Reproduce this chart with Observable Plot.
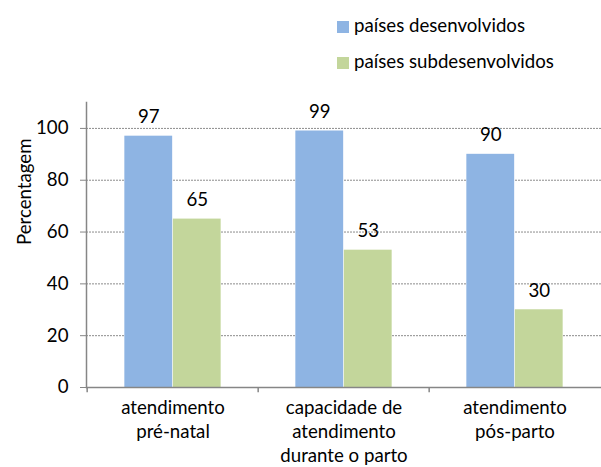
<!DOCTYPE html>
<html>
<head>
<meta charset="utf-8">
<script src="https://cdn.jsdelivr.net/npm/d3@7"></script>
<script src="https://cdn.jsdelivr.net/npm/@observablehq/plot@0.6"></script>
<style>
  body { margin: 0; background: #fff; font-family: Lato, "Noto Sans", sans-serif; }
  #legend { position: relative; width: 601px; height: 80px; }
  .item { position: absolute; left: 337px; height: 19px; font-size: 18.67px; line-height: 19px; color: #000; white-space: nowrap; }
  .sw { position: absolute; left: 0; top: 5px; width: 12px; height: 12px; }
  .lbl { position: absolute; left: 17px; top: 0; }
  svg { display: block; }
</style>
</head>
<body>
<div id="legend"></div>
<div id="chart"></div>
<script>
const categories = ["atendimento pré-natal", "capacidade de atendimento durante o parto", "atendimento pós-parto"];
const tickLabels = ["atendimento\npré-natal", "capacidade de\natendimento\ndurante o parto", "atendimento\npós-parto"];
const seriesNames = ["países desenvolvidos", "países subdesenvolvidos"];
const developed = [97, 99, 90];
const underdeveloped = [65, 53, 30];
const yTicks = [0, 20, 40, 60, 80, 100];
const colors = ["#8EB4E3", "#C3D69B"];

// legend
const legend = document.getElementById("legend");
seriesNames.forEach((name, i) => {
  const item = document.createElement("div");
  item.className = "item";
  item.style.top = (16 + i * 36) + "px";
  item.innerHTML = `<span class="sw" style="background:${colors[i]}"></span><span class="lbl">${name}</span>`;
  legend.appendChild(item);
});

const fs = 18.67;
const width = 601, height = 387;
const marginLeft = 86, marginRight = 0, marginTop = 22, marginBottom = 80;
const bw = (width - marginLeft - marginRight) / categories.length;
const barW = bw / 3.54;
const outer = (bw - 2 * barW) / 2;

const rows = categories.map((c, i) => ({cat: c, tick: tickLabels[i], dev: developed[i], sub: underdeveloped[i]}));
const gray = "#868686";

const chart = Plot.plot({
  width, height, marginLeft, marginRight, marginTop, marginBottom,
  style: {fontFamily: "Lato, 'Noto Sans', sans-serif", background: "#fff"},
  x: {domain: categories, padding: 0, axis: null},
  y: {domain: [0, 110], axis: null},
  marks: [
    Plot.gridY(yTicks.filter(d => d > 0), {stroke: "#8c8c8c", strokeOpacity: 1, strokeDasharray: "2,1"}),
    Plot.barY(rows, {x: "cat", y: "dev", fill: colors[0], insetLeft: outer, insetRight: outer + barW}),
    Plot.barY(rows, {x: "cat", y: "sub", fill: colors[1], insetLeft: outer + barW, insetRight: outer}),
    Plot.text(rows, {x: "cat", y: "dev", text: d => String(d.dev), dx: -barW / 2, dy: -19, fontSize: fs, fill: "#000", lineAnchor: "middle"}),
    Plot.text(rows, {x: "cat", y: "sub", text: d => String(d.sub), dx: barW / 2, dy: -19, fontSize: fs, fill: "#000", lineAnchor: "middle"}),
    Plot.ruleY([0], {stroke: gray, strokeWidth: 1.5}),
    Plot.frame({anchor: "left", stroke: gray, strokeWidth: 1.5}),
    Plot.ruleX(rows, {x: "cat", dx: -bw / 2, y1: 0, y2: -2, stroke: gray, strokeWidth: 1.5}),
    Plot.axisY({ticks: yTicks, tickSize: 6, tickPadding: 12, fontSize: fs, stroke: gray, fill: "#000", label: null, tickFormat: d => String(d)}),
    Plot.text(rows, {x: "cat", text: "tick", frameAnchor: "bottom", lineAnchor: "top", dy: 9, fontSize: fs, lineHeight: 1.29, fill: "#000"}),
    Plot.text(["Percentagem"], {frameAnchor: "left", text: d => d, rotate: -90, dx: -61, fontSize: fs, fill: "#000"})
  ]
});
document.getElementById("chart").appendChild(chart);
</script>
</body>
</html>
